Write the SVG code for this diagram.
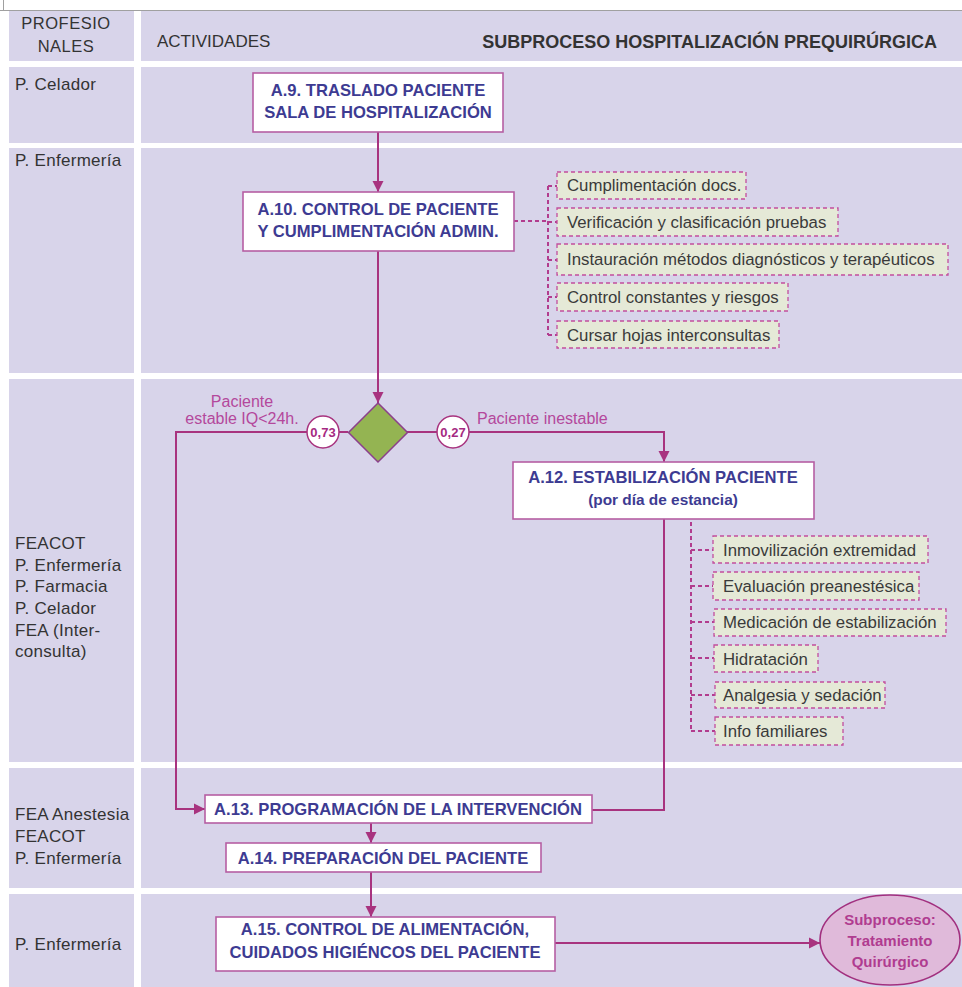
<svg xmlns="http://www.w3.org/2000/svg" width="962" height="987" viewBox="0 0 962 987">
<defs>
<style>
.lane{fill:#d8d4ea}
.lbl{font-family:"Liberation Sans",Arial,sans-serif;font-size:17px;fill:#333333;letter-spacing:0.3px}
.hdr{font-family:"Liberation Sans",Arial,sans-serif;font-size:16.5px;fill:#333333}
.node rect{fill:#ffffff;stroke:#b65ea3;stroke-width:1.6}
.nt{font-family:"Liberation Sans",Arial,sans-serif;font-size:16.6px;font-weight:bold;fill:#3d3b92;text-anchor:middle}
.note rect{fill:#e5e9d7;stroke:#c24d9d;stroke-width:1.3;stroke-dasharray:4 3}
.note text{font-family:"Liberation Sans",Arial,sans-serif;font-size:16.8px;fill:#3a3a3a}
.con{fill:none;stroke:#a8337f;stroke-width:2}
.dash{fill:none;stroke:#b23c8e;stroke-width:2;stroke-dasharray:4 3}
.pl{font-family:"Liberation Sans",Arial,sans-serif;font-size:16px;fill:#b4489c}
.prob circle{fill:#ffffff;stroke:#a8337f;stroke-width:1.5}
.prob text{font-family:"Liberation Sans",Arial,sans-serif;font-size:13px;font-weight:bold;fill:#a52a82;text-anchor:middle}
.sp{font-family:"Liberation Sans",Arial,sans-serif;font-size:15px;font-weight:bold;fill:#b03c90;text-anchor:middle}
</style>
<marker id="arr" viewBox="0 0 10 10" refX="10" refY="5" markerWidth="11" markerHeight="12" markerUnits="userSpaceOnUse" orient="auto">
<path d="M0,0 L10,5 L0,10 z" fill="#a8337f"/>
</marker>
</defs>
<rect x="0" y="0" width="962" height="987" fill="#ffffff"/>
<line x1="0" y1="10.5" x2="962" y2="10.5" stroke="#a0a0a0" stroke-width="1"/>
<line x1="3.5" y1="0" x2="3.5" y2="10" stroke="#a0a0a0" stroke-width="1"/>

<g id="lanes">
<rect class="lane" x="9" y="11" width="125" height="50"/>
<rect class="lane" x="141" y="11" width="821" height="50"/>
<rect class="lane" x="9" y="67" width="125" height="76"/>
<rect class="lane" x="141" y="67" width="821" height="76"/>
<rect class="lane" x="9" y="148" width="125" height="225"/>
<rect class="lane" x="141" y="148" width="821" height="225"/>
<rect class="lane" x="9" y="379" width="125" height="383"/>
<rect class="lane" x="141" y="379" width="821" height="383"/>
<rect class="lane" x="9" y="768" width="125" height="120"/>
<rect class="lane" x="141" y="768" width="821" height="120"/>
<rect class="lane" x="9" y="894" width="125" height="93"/>
<rect class="lane" x="141" y="894" width="821" height="93"/>
</g>

<g id="header">
<text class="hdr" x="66" y="29" text-anchor="middle" style="letter-spacing:0.5px">PROFESIO</text>
<text class="hdr" x="66" y="52" text-anchor="middle" style="letter-spacing:0.5px">NALES</text>
<text class="hdr" x="157" y="47" style="font-size:17px">ACTIVIDADES</text>
<text class="hdr" x="937" y="48" text-anchor="end" style="font-size:18px;font-weight:bold">SUBPROCESO HOSPITALIZACIÓN PREQUIRÚRGICA</text>
</g>

<g id="lane-labels">
<text class="lbl" x="15" y="90">P. Celador</text>
<text class="lbl" x="15" y="166">P. Enfermería</text>
<text class="lbl" x="15" y="549">FEACOT</text>
<text class="lbl" x="15" y="571">P. Enfermería</text>
<text class="lbl" x="15" y="592">P. Farmacia</text>
<text class="lbl" x="15" y="614">P. Celador</text>
<text class="lbl" x="15" y="636">FEA (Inter-</text>
<text class="lbl" x="15" y="657">consulta)</text>
<text class="lbl" x="15" y="820">FEA Anestesia</text>
<text class="lbl" x="15" y="842">FEACOT</text>
<text class="lbl" x="15" y="864">P. Enfermería</text>
<text class="lbl" x="15" y="950">P. Enfermería</text>
</g>

<g id="connectors">
<path class="con" d="M378,132 V192" marker-end="url(#arr)"/>
<path class="con" d="M378,251 V403" marker-end="url(#arr)"/>
<path class="con" d="M348,432 H176 V809 H205" marker-end="url(#arr)"/>
<path class="con" d="M407,432 H664 V462" marker-end="url(#arr)"/>
<path class="con" d="M664,519 V810 H592"/>
<path class="con" d="M371,823 V843" marker-end="url(#arr)"/>
<path class="con" d="M371,872 V917" marker-end="url(#arr)"/>
<path class="con" d="M555,943 H820" marker-end="url(#arr)"/>
<path class="dash" d="M514,221 H548 M548,186 V335 M548,186 H557 M548,222 H557 M548,260 H557 M548,297 H557 M548,335 H557"/>
<path class="dash" d="M691,522 V731 M691,550 H713 M691,586 H713 M691,622 H714 M691,658 H714 M691,695 H715 M691,731 H715"/>
</g>

<g id="edge-labels">
<text class="pl" x="242" y="407" text-anchor="middle">Paciente</text>
<text class="pl" x="242" y="424" text-anchor="middle">estable IQ&lt;24h.</text>
<text class="pl" x="477" y="424">Paciente inestable</text>
<g class="prob"><circle cx="323" cy="432" r="16"/><text x="323" y="437">0,73</text></g>
<g class="prob"><circle cx="453" cy="432" r="16"/><text x="453" y="437">0,27</text></g>
</g>

<g id="A9" class="node">
<rect x="253" y="73" width="250" height="59"/>
<text class="nt" x="378" y="96">A.9. TRASLADO PACIENTE</text>
<text class="nt" x="378" y="118">SALA DE HOSPITALIZACIÓN</text>
</g>

<g id="A10" class="node">
<rect x="243" y="192" width="271" height="59"/>
<text class="nt" x="378" y="215">A.10. CONTROL DE PACIENTE</text>
<text class="nt" x="378" y="237">Y CUMPLIMENTACIÓN ADMIN.</text>
</g>

<g id="decision">
<path d="M378,403 L407.5,432.5 L378,462 L348.5,432.5 Z" fill="#94b452" stroke="#8b3f8b" stroke-width="1.5"/>
</g>

<g id="A12" class="node">
<rect x="513" y="462" width="301" height="57"/>
<text class="nt" x="663" y="483">A.12. ESTABILIZACIÓN PACIENTE</text>
<text class="nt" x="663" y="505" style="font-size:15.4px">(por día de estancia)</text>
</g>

<g id="A13" class="node">
<rect x="205" y="795" width="387" height="28"/>
<text class="nt" x="398" y="815">A.13. PROGRAMACIÓN DE LA INTERVENCIÓN</text>
</g>

<g id="A14" class="node">
<rect x="226" y="843" width="315" height="29"/>
<text class="nt" x="383" y="864">A.14. PREPARACIÓN DEL PACIENTE</text>
</g>

<g id="A15" class="node">
<rect x="216" y="917" width="339" height="54"/>
<text class="nt" x="385" y="935">A.15. CONTROL DE ALIMENTACIÓN,</text>
<text class="nt" x="385" y="958">CUIDADOS HIGIÉNCOS DEL PACIENTE</text>
</g>

<g id="subproceso">
<ellipse cx="890" cy="940" rx="70" ry="45" fill="#e0bada" stroke="#a2307f" stroke-width="1.6"/>
<text class="sp" x="890" y="925">Subproceso:</text>
<text class="sp" x="890" y="946">Tratamiento</text>
<text class="sp" x="890" y="967">Quirúrgico</text>
</g>

<g id="n-a10-1" class="note"><rect x="557" y="172" width="189" height="27"/><text x="567" y="191">Cumplimentación docs.</text></g>
<g id="n-a10-2" class="note"><rect x="557" y="208" width="281" height="28"/><text x="567" y="228">Verificación y clasificación pruebas</text></g>
<g id="n-a10-3" class="note"><rect x="557" y="244" width="391" height="31"/><text x="567" y="265">Instauración métodos diagnósticos y terapéuticos</text></g>
<g id="n-a10-4" class="note"><rect x="557" y="283" width="231" height="28"/><text x="567" y="303">Control constantes y riesgos</text></g>
<g id="n-a10-5" class="note"><rect x="557" y="321" width="222" height="27"/><text x="567" y="341">Cursar hojas interconsultas</text></g>

<g id="n-a12-1" class="note"><rect x="713" y="536" width="215" height="27"/><text x="723" y="556">Inmovilización extremidad</text></g>
<g id="n-a12-2" class="note"><rect x="713" y="572" width="206" height="28"/><text x="723" y="592">Evaluación preanestésica</text></g>
<g id="n-a12-3" class="note"><rect x="714" y="609" width="232" height="27"/><text x="723" y="628">Medicación de estabilización</text></g>
<g id="n-a12-4" class="note"><rect x="714" y="645" width="104" height="27"/><text x="723" y="665">Hidratación</text></g>
<g id="n-a12-5" class="note"><rect x="715" y="682" width="170" height="26"/><text x="723" y="701">Analgesia y sedación</text></g>
<g id="n-a12-6" class="note"><rect x="715" y="717" width="128" height="28"/><text x="723" y="737">Info familiares</text></g>
</svg>
